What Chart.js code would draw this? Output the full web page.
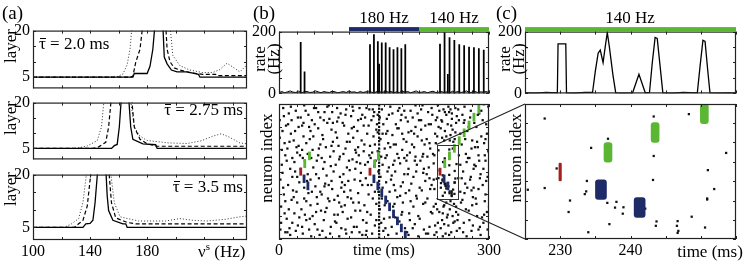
<!DOCTYPE html>
<html lang="en">
<head>
<meta charset="UTF-8">
<meta name="viewport" content="width=device-width, initial-scale=1.0">
<title>Layer reach, population rate and raster</title>
<script src="https://cdn.jsdelivr.net/npm/chart.js"></script>
<style>
    body {
        margin: 0;
        background: #fff;
        font-family: "Liberation Serif", "DejaVu Serif", serif;
    }
    #fig {
        position: relative;
        width: 748px;
        height: 263px;
        overflow: hidden;
    }
    #fig canvas { position: absolute; }
    .txt {
        position: absolute;
        font-size: 17px;
        line-height: 17px;
        white-space: nowrap;
        color: #000;
    }
    .panel { font-size: 19px; line-height: 19px; }
    .vert {
        width: 100px;
        height: 18px;
        line-height: 18px;
        text-align: center;
        transform: rotate(-90deg);
    }
    .vert2 {
        width: 40px;
        height: 28px;
        line-height: 14px;
        text-align: center;
        transform: rotate(-90deg);
    }
    .mid { transform: translateX(-50%); }
    .tb { position: relative; }
    .tb::before {
        content: "";
        position: absolute;
        left: 1px;
        right: 0;
        top: 4px;
        border-top: 1px solid #000;
    }
</style>
</head>
<body>
<div id="fig">
    <div class="txt panel" style="left:2px; top:3px;">(a)</div>
    <div class="txt panel" style="left:253px; top:3px;">(b)</div>
    <div class="txt panel" style="left:496px; top:3px;">(c)</div>

    <!-- rotated labels: box centre = (left + 50, top + 9) -->
    <div class="txt vert" style="left:-39px; top:37px;">layer</div>
    <div class="txt vert" style="left:-39px; top:109px;">layer</div>
    <div class="txt vert" style="left:-39px; top:180px;">layer</div>
    <div class="txt" style="left:39px; top:35px;"><span class="tb">τ</span> = 2.0 ms</div>
    <div class="txt" style="right:505px; top:101px;"><span class="tb">τ</span> = 2.75 ms</div>
    <div class="txt" style="right:505px; top:178px;"><span class="tb">τ</span> = 3.5 ms</div>
    <div class="txt" style="left:198px; top:243px;">ν<sup style="font-size:11px; line-height:0;">s</sup> (Hz)</div>

    <div class="txt mid" style="left:384px; top:9px;">180 Hz</div>
    <div class="txt mid" style="left:454px; top:9px;">140 Hz</div>
    <div class="txt mid" style="left:630px; top:9px;">140 Hz</div>

    <!-- two-line rotated labels: box centre = (left + 20, top + 14) -->
    <div class="txt vert2" style="left:247px; top:45px;">rate<br>(Hz)</div>
    <div class="txt vert2" style="left:492px; top:45px;">rate<br>(Hz)</div>
    <div class="txt vert" style="left:217px; top:149px;">neuron index</div>
    <div class="txt vert" style="left:466px; top:149px;">neuron index</div>
    <div class="txt mid" style="left:710px; top:243px;">time (ms)</div>
</div>

<script>
    // ---- (a) layer reached vs input frequency, three coupling delays ----
    const a1SolidNu  = [100,170,171,180,182,184,185.5,191,192,194,197,201,208,216,217,250];
    const a1SolidL   = [5,5,6.2,6.2,8.5,14,22,22,11.5,9.3,7.3,6.7,6.7,5.9,5,5];
    const a1DashNu   = [100,168,170,172,175,177,193,194,196,199,203,210,219,228,229,250];
    const a1DashL    = [5,5,5.3,9.8,14,22,22,14,10,8,7.3,6.5,5.9,5.9,5.5,5.5];
    const a1DotNu    = [100,158,163,166,168,169.5,196,198,203,210,219,226,231,236,241,245,250];
    const a1DotL     = [5,5,6,9,14,22,22,12,8.7,7.3,6.5,6.5,7.5,9.5,8,6.7,9];

    const a2SolidNu  = [100,155,157,159,160.5,162,167,168.5,170,177,186,187,250];
    const a2SolidL   = [5,5,5.9,6.3,12,22,22,12,8,6.5,6.2,5,5];
    const a2DashNu   = [100,142,146,151,153,155,169,171,175,180,187,250];
    const a2DashL    = [5,5,5.5,7,12,22,22,12,8,6.5,5.7,5.7];
    const a2DotNu    = [100,130,138,145,148,150,168,171,175,180,195,208,218,226,232,238,245,250];
    const a2DotL     = [5,5,5.8,7.5,12,22,22,12,9,7.6,6.8,6.6,7.5,9,9.8,8.6,6.8,6.5];

    const a3SolidNu  = [100,135,137,140,142,143.5,145.5,151,152,153,156,163,165,166,250];
    const a3SolidL   = [5,5,6,6.1,7,12,22,22,14,9.8,7,6,6,5,5];
    const a3DashNu   = [100,129,132,135,138,141,153,155,158,166,172,250];
    const a3DashL    = [5,5,6,7,11,22,22,12,7.7,6.4,6,6];
    const a3DotNu    = [100,122,127,132,135,138,154,157,161,174,193,203,212,222,235,245,250];
    const a3DotL     = [5,5,6,7.5,12,22,22,12,8,6.8,6.8,7.5,7,6.8,7.3,8,8.2];

    const nuLabels = [100, 140, 180];
    const nuTicks = [100,120,140,160,180,200,220,240];
    const layerLabels = [5, 20];
    const layerTicks = [5, 10, 15, 20];

    // ---- (b) population rate ----
    const rateStepB = 4; // ms between background rate samples
    const rateNoiseB = [3,6,2,5,8,4,3,7,2,5, 6,3,4,8,5,2,6,4,3,7, 5,2,4,6,3,8,4,5,2,6,
                        3,5,7,4,2,6,5,3,8,4, 6,2,5,3,7,4,6,2,5,8, 3,4,6,2,5,7,3,4,6,3,
                        5,2,7,4,6,3,5,8,2,4, 6,3,5,4,6,3];
    const spikeT = [31,36.5, 130,135.6,141.2,143,146.8,152.4,158,163.6,169.2,174.8,180.4,
                    230,236.5,241.2,243.6,250.5,257.5,264.5,271.5,278.5,285.5,292.5];
    const spikeR = [165,70, 158,190,168,95,164,164,148,142,148,145,158,
                    160,197,62,181,172,158,155,150,148,145,140];
    const stimFrom = [100, 200];
    const stimTo = [200, 300];

    // ---- raster: stimulus packet (red) and the two propagating branches ----
    const redT = [31, 130, 230];
    const redLo = 47.2, redHi = 52.5;
    const blueT  = [35.8,41.3, 135.6,141.2,146.8,152.4,158,163.6,169.2,174.8,180.4, 235.8,241.3];
    const blueLo = [41.7,36.4, 41.7,36.5,31.3,26.1,20.9,15.7,10.5,5.3,0.1, 41.7,36.4];
    const blueHi = [47.5,42.3, 47.5,42.3,37.1,31.9,26.7,21.5,16.3,11.1,5.9, 47.5,42.3];
    const greenT  = [36.8,43.5, 136.5,142, 236.8,243.5,250.5,257.5,264.5,271.5,278.5,285.5,292.5];
    const greenLo = [52.8,58.6, 52.8,58.6, 52.8,58.6,64.2,70,75.8,81.6,87.4,93.2,99];
    const greenHi = [58.6,64.5, 58.6,64.5, 58.6,64.5,70,75.8,81.6,87.4,93.2,99,104.8];

    // background spikes [time ms, neuron index]
    const bgSpikes = [
        [1,88],[3,12],[4,55],[6,97],[7,33],[8,71],[9,5],[2,44],[5,80],[9,62],[3,24],[7,91],
        [11,15],[12,67],[13,40],[14,93],[15,8],[16,52],[17,78],[18,29],[19,60],[13,85],[16,3],[19,46],
        [21,73],[22,19],[23,50],[24,95],[25,35],[26,64],[27,10],[28,83],[29,42],[22,57],[26,27],[28,69],
        [31,90],[32,22],[33,66],[34,4],[35,76],[36,30],[37,58],[38,95],[39,14],[33,84],[36,38],[39,71],
        [41,48],[42,92],[43,7],[44,74],[45,25],[46,60],[47,88],[48,17],[49,53],[42,34],[45,80],[48,66],
        [51,11],[52,39],[53,97],[54,58],[55,26],[56,82],[57,45],[58,3],[59,70],[53,20],[56,62],[59,90],
        [61,33],[62,77],[63,52],[64,14],[65,94],[66,41],[67,68],[68,23],[69,86],[62,6],[65,57],[68,47],
        [71,99],[72,28],[73,61],[74,9],[75,81],[76,37],[77,72],[78,50],[79,18],[72,89],[75,43],[78,65],
        [81,55],[82,12],[83,87],[84,32],[85,69],[86,2],[87,46],[88,93],[89,24],[83,75],[86,59],[89,38],
        [91,20],[92,63],[93,84],[94,40],[95,7],[96,96],[97,53],[98,31],[99,78],[92,48],[95,67],[98,15],
        [101,72],[102,36],[103,91],[104,5],[105,59],[106,27],[107,83],[108,44],[109,66],[103,16],[106,95],[109,52],
        [111,9],[112,80],[113,34],[114,62],[115,97],[116,21],[117,49],[118,73],[119,3],[113,88],[116,56],[119,40],
        [121,65],[122,25],[123,90],[124,45],[125,12],[126,78],[127,57],[128,33],[129,96],[122,70],[125,6],[128,84],
        [131,18],[132,88],[133,64],[134,30],[135,76],[136,94],[137,10],[138,58],[139,81],[132,40],[137,70],[139,26],
        [141,92],[142,50],[144,22],[145,74],[146,61],[147,96],[148,38],[149,85],[146,12],[148,55],[141,79],
        [151,67],[152,8],[153,42],[154,89],[155,28],[156,71],[157,53],[158,16],[159,98],[152,60],[155,80],[158,35],
        [161,47],[162,93],[163,24],[164,70],[165,58],[166,36],[167,85],[168,4],[169,63],[162,77],[166,50],[169,31],
        [171,82],[172,13],[173,56],[174,39],[175,92],[176,66],[177,27],[178,74],[179,48],[172,97],[176,20],[179,60],
        [181,34],[182,72],[183,5],[184,87],[185,52],[186,19],[187,64],[188,95],[189,41],[182,58],[185,79],[188,28],
        [191,90],[192,46],[193,68],[194,11],[195,83],[196,32],[197,55],[198,76],[199,2],[192,24],[195,61],[198,93],
        [201,15],[202,58],[203,81],[204,36],[205,99],[206,49],[207,7],[208,70],[209,27],[203,88],[206,63],[209,43],
        [211,74],[212,30],[213,94],[214,53],[215,9],[216,67],[217,85],[218,40],[219,19],[212,61],[215,45],[218,97],
        [221,56],[222,3],[223,78],[224,26],[226,90],[227,12],[228,83],[222,37],[224,71],[229,95],[226,22],[221,44],
        [231,8],[232,88],[233,75],[234,19],[235,96],[236,25],[237,80],[238,4],[239,92],[233,14],[236,73],[239,27],
        [241,85],[242,10],[243,94],[244,22],[245,77],[246,5],[247,89],[248,17],[249,72],[242,98],[245,28],[248,81],
        [251,13],[252,79],[253,24],[254,91],[256,45],[257,62],[258,8],[259,35],[253,86],[256,18],[259,55],[252,97],
        [261,70],[262,29],[263,50],[264,12],[265,88],[266,41],[267,63],[268,2],[269,80],[262,92],[265,34],[268,57],
        [271,21],[272,60],[273,44],[274,95],[275,6],[276,73],[277,31],[278,52],[279,86],[272,14],[275,67],[278,38],
        [281,54],[282,83],[283,17],[284,68],[285,37],[286,93],[287,9],[288,48],[289,76],[282,26],[285,62],[288,3],
        [291,40],[292,12],[293,71],[294,28],[295,58],[296,85],[297,20],[298,46],[299,65],[292,52],[295,33],[298,7],
        [2,7],[4,66],[6,38],[8,19],[10,84],[5,49],[1,75],[9,28],
        [11,58],[14,22],[17,98],[20,36],[12,5],[15,72],[18,88],[19,12],
        [21,31],[24,6],[27,90],[30,62],[23,80],[26,46],[29,16],[25,68],
        [31,52],[34,60],[37,18],[40,43],[33,9],[36,99],[39,28],[35,86],
        [41,63],[44,15],[47,35],[50,97],[43,83],[46,2],[49,76],[45,44],
        [51,85],[54,31],[57,67],[60,21],[53,48],[56,94],[59,35],[55,7],
        [61,60],[64,88],[67,1],[70,30],[63,74],[66,20],[69,98],[65,39],
        [71,40],[74,54],[77,86],[80,13],[73,4],[76,94],[79,29],[75,69],
        [81,79],[84,18],[87,61],[90,42],[83,97],[86,27],[89,8],[85,90],
        [91,86],[94,25],[97,72],[100,58],[93,35],[96,4],[99,43],[95,92],
        [101,51],[104,82],[107,9],[110,64],[103,30],[106,75],[109,21],[105,98],
        [111,57],[114,27],[117,89],[120,14],[113,68],[116,43],[119,92],[115,5],
        [121,84],[124,3],[127,40],[130,69],[123,55],[126,20],[129,62],[125,97],
        [131,60],[134,96],[137,35],[140,85],[133,4],[136,54],[139,14],[135,91],
        [141,65],[144,90],[147,30],[150,15],[145,46],[148,78],[149,6],[142,35],
        [151,25],[154,62],[157,92],[160,44],[153,78],[156,3],[159,68],[155,50],
        [161,9],[164,40],[167,70],[170,95],[163,55],[166,16],[169,82],[165,26],
        [171,60],[174,88],[177,42],[180,8],[173,32],[176,78],[179,95],[175,18],
        [181,90],[184,48],[187,14],[190,70],[183,62],[186,36],[189,80],[185,3],
        [191,8],[194,58],[197,30],[200,88],[193,78],[196,50],[199,17],[195,99],
        [201,38],[204,73],[207,52],[210,4],[203,96],[206,26],[209,84],[205,61],
        [211,48],[214,85],[217,20],[220,63],[213,4],[216,37],[219,92],[215,71],
        [221,24],[224,88],[223,10],[226,76],[229,20],[227,99],[222,62],[225,5],
        [231,82],[234,2],[237,94],[240,16],[233,87],[236,11],[239,76],[235,24],
        [241,18],[244,73],[247,93],[250,26],[243,3],[246,84],[249,12],[245,96],
        [251,74],[254,6],[257,88],[260,27],[253,20],[256,96],[259,78],[255,14],
        [261,45],[264,86],[267,22],[270,60],[263,5],[266,74],[269,38],[265,98],
        [271,83],[274,46],[277,10],[280,68],[273,90],[276,25],[279,55],[275,36],
        [281,30],[284,92],[287,45],[290,16],[283,72],[286,58],[289,95],[285,7],
        [291,88],[294,62],[297,78],[300,24],[293,18],[296,43],[299,98],[295,74]
    ];
    // synchronous background event
    const syncT = 143;
    const syncN = [1,3.5,6,8.5,11,14,16.5,19,22,24.5,27,30,32.5,35,38,40.5,43,46,48.5,51,
                   54,56.5,59,62,64.5,67,70,72.5,75,78,80.5,83,86,88.5,91,94,96.5,99];
    // spikes inside the zoom window (shown in both b and c)
    const zoomSpikes = [
        [227.8,65.7],[227.8,45.1],[225.4,44.6],[229.5,50.9],[231.4,41.4],[231.2,38],
        [233.8,47.2],[233.5,43.3],[233.7,44.1],[234.4,57],[234,32],[236.8,59.7],
        [236.7,40.7],[238,41],[237.8,39.3],[237,34.4],[239,39.4],[238.9,37.5],
        [242.1,39],[243.3,66.3],[243.3,54.6],[243.2,47.5],[243.7,35.2],[243.6,33.9],
        [246.7,35.3],[246.6,33.9],[246.8,32.4],[246.7,31.8],[248.3,67],[248.7,36.6],
        [251,50.4],[250.9,42],[250.9,41.7],[250.6,33.4],[251.9,44.8],[253.6,55.5]
    ];
    const zoomT0 = 225, zoomT1 = 255, zoomN0 = 30, zoomN1 = 70;

    // ---- (c) zoomed population rate ----
    const cRateT = [225,226.5,228,229.6,229.7,230.8,230.9,232,233.5,234.6,
                    235,235.4,235.7,236.1,236.4,236.7,237,237.5,237.9,239,
                    240.3,241.2,242.1,242.7,243.1,243.5,243.8,244.2,244.6,246,
                    247.5,249.5,249.9,250.3,250.6,251,251.3,252.5,254,255];
    const cRateR = [2,1,3,2,160,160,2,1,3,3,
                    72,130,140,100,150,197,150,60,2,1,
                    2,62,2,3,100,181,178,90,2,1,
                    3,2,90,172,168,70,2,1,2,1];

    const NAVY = '#1d2c68', GREEN = '#5bb733', RED = '#a3201f', INK = '#111';

    Chart.defaults.font.family = '"Liberation Serif", "DejaVu Serif", serif';
    Chart.defaults.font.size = 16;
    Chart.defaults.color = '#000';

    const fig = document.getElementById('fig');

    function pts(xs, ys) {
        return xs.map((x, i) => ({ x: x, y: ys[i] }));
    }

    function makeCanvas(frame, pad) {
        const c = document.createElement('canvas');
        c.width = frame.w + pad.l + pad.r;
        c.height = frame.h + pad.t + pad.b;
        c.style.left = (frame.x - pad.l) + 'px';
        c.style.top = (frame.y - pad.t) + 'px';
        fig.insertBefore(c, fig.firstChild);
        return c;
    }

    // box with inward ticks on all four sides
    const framePlugin = {
        id: 'frame',
        afterDatasetsDraw(chart, args, o) {
            const { ctx, chartArea: a, scales } = chart;
            ctx.save();
            ctx.strokeStyle = '#222';
            ctx.lineWidth = 1.2;
            ctx.strokeRect(a.left + 0.5, a.top + 0.5, a.right - a.left - 1, a.bottom - a.top - 1);
            ctx.lineWidth = 1;
            ctx.beginPath();
            (o.xTicks || []).forEach(v => {
                const x = Math.round(scales.x.getPixelForValue(v)) + 0.5;
                ctx.moveTo(x, a.bottom); ctx.lineTo(x, a.bottom - 3);
                ctx.moveTo(x, a.top); ctx.lineTo(x, a.top + 3);
            });
            (o.yTicks || []).forEach(v => {
                const y = Math.round(scales.y.getPixelForValue(v)) + 0.5;
                ctx.moveTo(a.left, y); ctx.lineTo(a.left + 3, y);
                ctx.moveTo(a.right, y); ctx.lineTo(a.right - 3, y);
            });
            ctx.stroke();
            ctx.restore();
        }
    };

    // coloured stimulus bars above a rate plot
    const stimPlugin = {
        id: 'stim',
        afterDraw(chart, args, o) {
            const { ctx, chartArea: a, scales } = chart;
            ctx.save();
            o.from.forEach((f, i) => {
                const x0 = scales.x.getPixelForValue(f);
                const x1 = scales.x.getPixelForValue(o.to[i]);
                ctx.fillStyle = o.colors[i];
                ctx.fillRect(x0, a.top - 4.5, x1 - x0, 4);
            });
            ctx.restore();
        }
    };

    // zoom window outline in (b)
    const insetPlugin = {
        id: 'inset',
        afterDatasetsDraw(chart, args, o) {
            const { ctx, scales } = chart;
            const x0 = scales.x.getPixelForValue(o.t0), x1 = scales.x.getPixelForValue(o.t1);
            const y0 = scales.y.getPixelForValue(o.n1), y1 = scales.y.getPixelForValue(o.n0);
            ctx.save();
            ctx.strokeStyle = '#333';
            ctx.lineWidth = 1;
            ctx.strokeRect(Math.round(x0) + 0.5, Math.round(y0) + 0.5, Math.round(x1 - x0), Math.round(y1 - y0));
            ctx.restore();
        }
    };

    function axes(pad, xr, yr, xLabels, yLabels, xCb) {
        const x = {
            type: 'linear', min: xr[0], max: xr[1], offset: false,
            grid: { display: false, drawTicks: false }, border: { display: false },
            ticks: { display: !!xLabels, padding: 2, maxRotation: 0, autoSkip: false },
            afterFit: s => { s.height = pad.b; }
        };
        if (xLabels) x.afterBuildTicks = s => { s.ticks = xLabels.map(v => ({ value: v })); };
        if (xCb) x.ticks.callback = xCb;
        const y = {
            type: 'linear', min: yr[0], max: yr[1],
            grid: { display: false, drawTicks: false }, border: { display: false },
            ticks: { display: !!yLabels, padding: 3, autoSkip: false },
            afterFit: s => { s.width = pad.l; }
        };
        if (yLabels) y.afterBuildTicks = s => { s.ticks = yLabels.map(v => ({ value: v })); };
        return { x: x, y: y };
    }

    function common(pad) {
        return {
            responsive: false,
            animation: false,
            events: [],
            layout: { padding: { top: pad.t, right: pad.r, left: 0, bottom: 0 } },
            elements: { point: { radius: 0 }, line: { tension: 0 } }
        };
    }

    // ---- panel (a) ----
    function layerChart(frame, pad, c, showX) {
        const cv = makeCanvas(frame, pad);
        const opts = common(pad);
        opts.plugins = { legend: { display: false }, tooltip: { enabled: false },
                         frame: { xTicks: nuTicks, yTicks: layerTicks } };
        opts.scales = axes(pad, [100, 250], [1.4, 20], showX ? nuLabels : null, layerLabels);
        return new Chart(cv, {
            type: 'line',
            data: {
                datasets: [
                    { data: pts(c[0], c[1]), borderColor: '#000', borderWidth: 1.3 },
                    { data: pts(c[2], c[3]), borderColor: '#000', borderWidth: 1.2, borderDash: [4, 2.5] },
                    { data: pts(c[4], c[5]), borderColor: '#333', borderWidth: 1, borderDash: [1, 2] }
                ]
            },
            options: opts,
            plugins: [framePlugin]
        });
    }

    layerChart({ x: 33, y: 30, w: 214, h: 67 }, { l: 33, t: 12, r: 3, b: 4 },
        [a1SolidNu, a1SolidL, a1DashNu, a1DashL, a1DotNu, a1DotL], false);
    layerChart({ x: 33, y: 101, w: 214, h: 67 }, { l: 33, t: 11, r: 3, b: 4 },
        [a2SolidNu, a2SolidL, a2DashNu, a2DashL, a2DotNu, a2DotL], false);
    layerChart({ x: 33, y: 173, w: 214, h: 67 }, { l: 33, t: 11, r: 3, b: 22 },
        [a3SolidNu, a3SolidL, a3DashNu, a3DashL, a3DotNu, a3DotL], true);

    // ---- rate plots ----
    const rateTimesB = rateNoiseB.map((_, i) => i * rateStepB);

    function rateChart(frame, pad, xr, xTicks, datasets, stim) {
        const cv = makeCanvas(frame, pad);
        const opts = common(pad);
        opts.plugins = { legend: { display: false }, tooltip: { enabled: false },
                         frame: { xTicks: xTicks, yTicks: [0, 50, 100, 150, 200] }, stim: stim };
        opts.scales = axes(pad, xr, [0, 200], null, [0, 200]);
        return new Chart(cv, { type: 'line', data: { datasets: datasets }, options: opts,
                               plugins: [framePlugin, stimPlugin] });
    }

    const ticks25 = [0,25,50,75,100,125,150,175,200,225,250,275,300];
    const ticks5 = [225,230,235,240,245,250,255];

    rateChart({ x: 279, y: 31, w: 210, h: 63 }, { l: 40, t: 12, r: 10, b: 12 }, [0, 300], ticks25, [
        { type: 'line', data: pts(rateTimesB, rateNoiseB), borderColor: '#000', borderWidth: 1 },
        { type: 'bar', data: pts(spikeT, spikeR), backgroundColor: '#000', barThickness: 1.1, grouped: false }
    ], { from: stimFrom, to: stimTo, colors: [NAVY, GREEN] });

    rateChart({ x: 525, y: 31, w: 211, h: 63 }, { l: 30, t: 12, r: 6, b: 12 }, [zoomT0, zoomT1], ticks5, [
        { type: 'line', data: pts(cRateT, cRateR), borderColor: '#000', borderWidth: 1.3 }
    ], { from: [zoomT0], to: [zoomT1], colors: [GREEN] });

    // ---- rasters ----
    const allDots = bgSpikes.concat(zoomSpikes).map(p => ({ x: p[0], y: p[1] }))
        .concat(syncN.map(n => ({ x: syncT, y: n })));

    function packets(ts, lo, hi) {
        return ts.map((t, i) => ({ x: t, y: [Array.isArray(lo) ? lo[i] : lo, Array.isArray(hi) ? hi[i] : hi] }));
    }

    function rasterChart(frame, pad, xr, yr, xLabels, xCb, xTicks, yTicks, widths, extra) {
        const cv = makeCanvas(frame, pad);
        const opts = common(pad);
        opts.plugins = Object.assign({ legend: { display: false }, tooltip: { enabled: false },
                                       frame: { xTicks: xTicks, yTicks: yTicks } }, extra.opts);
        opts.scales = axes(pad, xr, yr, xLabels, null, xCb);
        const bar = (data, color, w) => ({ type: 'bar', data: data, backgroundColor: color,
            barThickness: w, grouped: false, borderSkipped: false, borderRadius: widths.r, order: 1 });
        const chart = new Chart(cv, {
            type: 'scatter',
            data: {
                datasets: [
                    { data: allDots, pointStyle: 'rect', pointRadius: widths.dot, backgroundColor: INK,
                      borderWidth: 0, order: 2 },
                    bar(packets(redT, redLo, redHi), RED, widths.red),
                    bar(packets(blueT, blueLo, blueHi), NAVY, widths.blue),
                    bar(packets(greenT, greenLo, greenHi), GREEN, widths.green)
                ]
            },
            options: opts,
            plugins: [framePlugin].concat(extra.plugins)
        });
        return { chart: chart, canvas: cv };
    }

    const bR = rasterChart({ x: 279, y: 102, w: 210, h: 137 }, { l: 10, t: 2, r: 14, b: 22 },
        [0, 300], [0, 100], [0, 150, 300], v => (v === 150 ? 'time (ms)' : v), ticks25,
        [0, 16.7, 33.3, 50, 66.7, 83.3, 100],
        { dot: 1.6, red: 2.2, blue: 2.2, green: 2.2, r: 0 },
        { opts: { inset: { t0: zoomT0, t1: zoomT1, n0: zoomN0, n1: zoomN1 } }, plugins: [insetPlugin] });

    const cR = rasterChart({ x: 525, y: 102, w: 211, h: 137 }, { l: 4, t: 2, r: 8, b: 22 },
        [zoomT0, zoomT1], [zoomN0, zoomN1], [230, 240], null, ticks5,
        [30, 35.7, 41.4, 47.1, 52.9, 58.6, 64.3, 70],
        { dot: 1.6, red: 2.5, blue: 11, green: 8, r: 3 },
        { opts: {}, plugins: [] });

    // connector lines from the zoom window in (b) to the raster in (c)
    const ov = document.createElement('canvas');
    ov.width = 748; ov.height = 263;
    ov.style.left = '0px'; ov.style.top = '0px';
    fig.appendChild(ov);
    const g = ov.getContext('2d');
    const bx = v => bR.canvas.offsetLeft + bR.chart.scales.x.getPixelForValue(v);
    const by = v => bR.canvas.offsetTop + bR.chart.scales.y.getPixelForValue(v);
    const ca = cR.chart.chartArea;
    const cL = cR.canvas.offsetLeft + ca.left, cT = cR.canvas.offsetTop + ca.top, cB = cR.canvas.offsetTop + ca.bottom;
    g.strokeStyle = '#222';
    g.lineWidth = 1.1;
    g.beginPath();
    g.moveTo(bx(zoomT0), by(zoomN1)); g.lineTo(cL, cT);
    g.moveTo(bx(zoomT0), by(zoomN0)); g.lineTo(cL, cB);
    g.stroke();
</script>
</body>
</html>
